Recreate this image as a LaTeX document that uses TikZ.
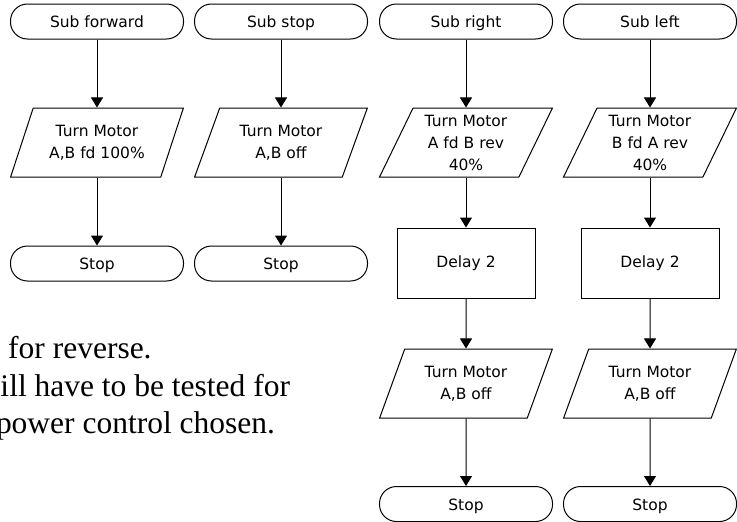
\documentclass[tikz,border=0pt]{standalone}
\usepackage{fontspec}
\newfontfamily\chartfont{DejaVu Sans}
\newfontfamily\notefont{Liberation Serif}
\usetikzlibrary{arrows.meta,shapes.geometric}
\tikzset{
  terminal/.style={draw, rectangle, rounded corners=17pt, minimum width=173pt, minimum height=35pt,
    inner sep=0pt, text height=14pt, text depth=1.5pt},
  io/.style={draw, trapezium, trapezium left angle=65, trapezium right angle=115, trapezium stretches=true,
    minimum width=173pt, minimum height=69pt, inner sep=1pt, align=center},
  process/.style={draw, rectangle, minimum width=138pt, minimum height=70pt},
  notetext/.style={anchor=base west, inner sep=0pt, font=\notefont\fontsize{31.5}{36}\selectfont}
}
\begin{document}
\begin{tikzpicture}[x=1pt, y=-1pt, >={Triangle[length=10pt,width=12pt]}, line width=1pt,
  every node/.append style={font=\chartfont\fontsize{15.5}{22}\selectfont}]
\useasboundingbox (0,0) rectangle (737,522);
% Sub forward
\node[terminal] (fwd) at (97,21.5) {Sub forward};
\node[io] (fwdmot) at (97,142.5) {Turn Motor\\A,B fd 100\%};
\node[terminal] (fwdstop) at (97,263.5) {Stop};
\draw[->] (fwd) -- (fwdmot);
\draw[->] (fwdmot) -- (fwdstop);
% Sub stop
\node[terminal] (stp) at (281,21.5) {Sub stop};
\node[io] (stpmot) at (281,142.5) {Turn Motor\\A,B off};
\node[terminal] (stpstop) at (281,263.5) {Stop};
\draw[->] (stp) -- (stpmot);
\draw[->] (stpmot) -- (stpstop);
% Sub right
\node[terminal] (rgt) at (466,21.5) {Sub right};
\node[io] (rgtmot) at (466,142.5) {Turn Motor\\A fd B rev\\40\%};
\node[process] (rgtdel) at (466,263) {Delay 2};
\node[io] (rgtoff) at (466,383.5) {Turn Motor\\A,B off};
\node[terminal] (rgtstop) at (466,504) {Stop};
\draw[->] (rgt) -- (rgtmot);
\draw[->] (rgtmot) -- (rgtdel);
\draw[->] (rgtdel) -- (rgtoff);
\draw[->] (rgtoff) -- (rgtstop);
% Sub left
\node[terminal] (lft) at (650,21.5) {Sub left};
\node[io] (lftmot) at (650,142.5) {Turn Motor\\B fd A rev\\40\%};
\node[process] (lftdel) at (650,263) {Delay 2};
\node[io] (lftoff) at (650,383.5) {Turn Motor\\A,B off};
\node[terminal] (lftstop) at (650,504) {Stop};
\draw[->] (lft) -- (lftmot);
\draw[->] (lftmot) -- (lftdel);
\draw[->] (lftdel) -- (lftoff);
\draw[->] (lftoff) -- (lftstop);
% Text
\node[notetext] (note1) at (7.7,358) {for reverse.};
\node[notetext] (note2) at (0,396) {ill have to be tested for};
\node[notetext] (note3) at (-4.5,433) {power control chosen.};
\end{tikzpicture}
\end{document}
